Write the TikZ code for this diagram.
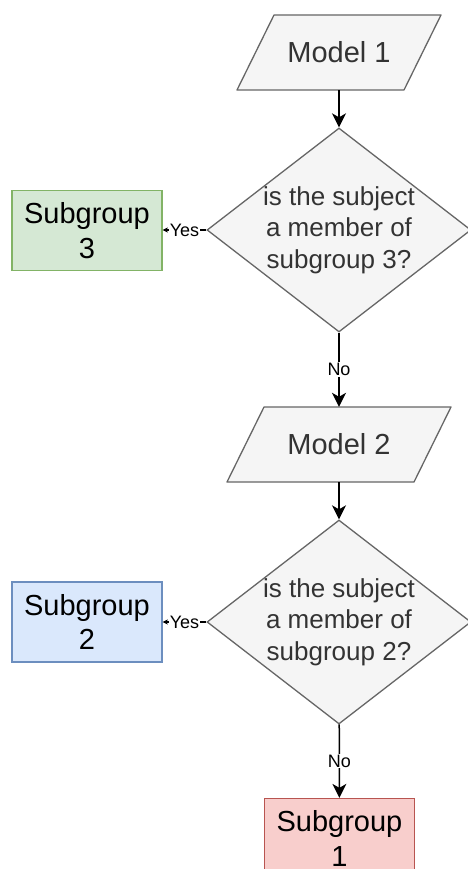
\documentclass[tikz,border=0pt]{standalone}
\usepackage{fontspec}
\setmainfont{Liberation Sans}
\usetikzlibrary{shapes.geometric,arrows.meta}
\definecolor{grayfill}{HTML}{F5F5F5}
\definecolor{grayline}{HTML}{666666}
\definecolor{graytext}{HTML}{333333}
\definecolor{greenfill}{HTML}{D5E8D4}
\definecolor{greenline}{HTML}{82B366}
\definecolor{bluefill}{HTML}{DAE8FC}
\definecolor{blueline}{HTML}{6C8EBF}
\definecolor{redfill}{HTML}{F8CECC}
\definecolor{redline}{HTML}{B85450}
\begin{document}
\begin{tikzpicture}[x=1pt,y=-1pt,
	para/.style={draw=grayline, fill=grayfill, line width=1.3pt, line join=round},
	model/.style={rectangle, text=graytext, minimum height=75pt, inner sep=0pt,
		font=\fontsize{29}{35}\selectfont},
	question/.style={diamond, draw=grayline, fill=grayfill, line width=1.3pt, minimum width=264pt, minimum height=204pt, inner sep=0pt},
	qtext/.style={text=graytext, align=center, font=\fontsize{26}{31.5}\selectfont},
	subbox/.style={rectangle, line width=1.3pt, minimum width=150pt, minimum height=80pt, inner sep=0pt, align=center,
		font=\fontsize{29}{34.8}\selectfont},
	flow/.style={line width=1.5pt, -{Stealth[length=14pt,width=14pt,inset=4pt]}},
	yesflow/.style={line width=1.3pt, -{Stealth[length=5pt,width=5pt,inset=1pt]}},
	lbl/.style={fill=white, inner sep=1pt, font=\fontsize{18}{20}\selectfont}]
	\useasboundingbox (0,0) rectangle (467,869);
	% model shapes
	\filldraw[para] (274,15) -- (441,15) -- (404,90) -- (237,90) -- cycle;
	\node[model, minimum width=167pt] (m1) at (339,52.5) {Model 1};
	\node[question, label={[qtext]center:is the subject\\a member of\\subgroup 3?}] (q1) at (339,230) {};
	\node[subbox, draw=greenline, fill=greenfill] (s3) at (87,230.5) {Subgroup\\3};
	\filldraw[para] (264,407) -- (451,407) -- (414,482) -- (227,482) -- cycle;
	\node[model, minimum width=187pt] (m2) at (339,444.5) {Model 2};
	\node[question, label={[qtext]center:is the subject\\a member of\\subgroup 2?}] (q2) at (339,622) {};
	\node[subbox, draw=blueline, fill=bluefill] (s2) at (87,622) {Subgroup\\2};
	\node[subbox, draw=redline, fill=redfill] (s1) at (339.5,838.5) {Subgroup\\1};
	% arrows
	\draw[flow] (m1) -- (q1);
	\draw[yesflow] (q1.west) -- node[lbl]{Yes} (q1.west -| s3.east);
	\draw[flow] (q1) -- node[lbl]{No} (m2);
	\draw[flow] (m2) -- (q2);
	\draw[yesflow] (q2.west) -- node[lbl]{Yes} (q2.west -| s2.east);
	\draw[flow] (q2) -- node[lbl]{No} (s1);
\end{tikzpicture}
\end{document}
